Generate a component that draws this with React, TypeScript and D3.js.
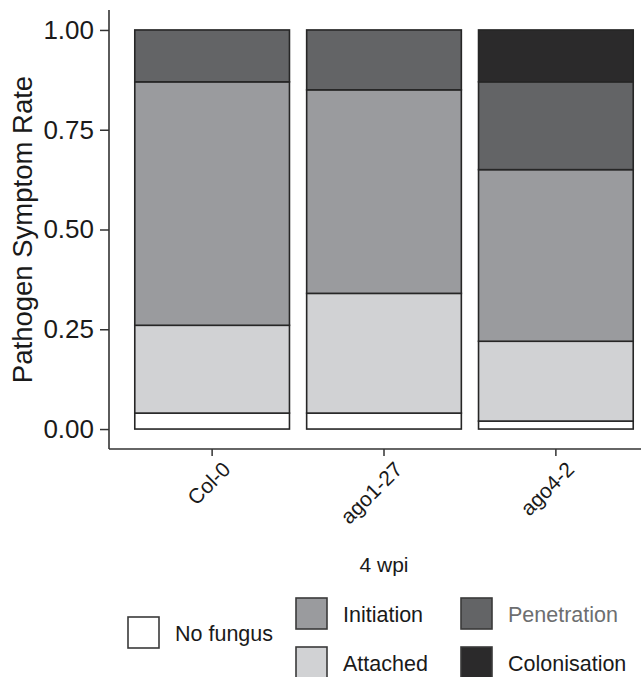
import React, { useEffect, useRef } from 'react';
import * as d3 from 'd3';

// genotypes on the x axis
const genotypes = ['Col-0', 'ago1-27', 'ago4-2'];
// stacking order, bottom to top
const stages = ['No fungus', 'Attached', 'Initiation', 'Penetration', 'Colonisation'];
// proportion of each stage per genotype (same order as genotypes)
const noFungus = [0.04, 0.04, 0.02];
const attached = [0.22, 0.30, 0.20];
const initiation = [0.61, 0.51, 0.43];
const penetration = [0.13, 0.15, 0.22];
const colonisation = [0.0, 0.0, 0.13];
const yTicks = [0, 0.25, 0.5, 0.75, 1];
const stageColors = ['#ffffff', '#d1d2d4', '#9a9b9e', '#636466', '#2b2a2b'];

const FONT = '"Liberation Sans", Arial, sans-serif';

const App = () => {
  const ref = useRef<SVGSVGElement>(null);

  useEffect(() => {
    if (!ref.current) return;
    const svg = d3.select(ref.current);
    svg.selectAll('*').remove();

    const left = 109, right = 659, top = 10, bottom = 449;

    const rows = genotypes.map((g, i) => ({
      genotype: g,
      'No fungus': noFungus[i],
      Attached: attached[i],
      Initiation: initiation[i],
      Penetration: penetration[i],
      Colonisation: colonisation[i],
    }));

    const x = d3.scaleBand()
      .domain(genotypes)
      .range([left, right])
      .paddingInner(0.1)
      .paddingOuter(0.15);

    const y = d3.scaleLinear()
      .domain([-0.05, 1.05])
      .range([bottom, top]);

    const color = d3.scaleOrdinal<string>().domain(stages).range(stageColors);

    const stacked = d3.stack<any>().keys(stages)(rows);

    // bars
    const layers = svg.append('g')
      .selectAll('g')
      .data(stacked)
      .enter().append('g')
      .attr('fill', d => color(d.key));

    layers.selectAll('rect')
      .data(d => d.filter(p => p[1] - p[0] > 0))
      .enter().append('rect')
      .attr('x', (d: any) => x(d.data.genotype)!)
      .attr('width', x.bandwidth())
      .attr('y', d => y(d[1]))
      .attr('height', d => y(d[0]) - y(d[1]))
      .attr('stroke', '#262626')
      .attr('stroke-width', 1.6);

    // y axis
    const yAxis = svg.append('g')
      .attr('transform', `translate(${left},0)`)
      .call(d3.axisLeft(y).tickValues(yTicks).tickFormat(d3.format('.2f')).tickSize(9).tickPadding(6));
    yAxis.select('.domain').remove();
    yAxis.selectAll('.tick line').attr('stroke', '#333').attr('stroke-width', 1.5);
    yAxis.selectAll('.tick text')
      .attr('font-family', FONT)
      .attr('font-size', 26)
      .attr('fill', '#1a1a1a');

    svg.append('line')
      .attr('x1', left).attr('x2', left)
      .attr('y1', top).attr('y2', bottom)
      .attr('stroke', '#333').attr('stroke-width', 1.6);

    // x axis
    svg.append('line')
      .attr('x1', left).attr('x2', right)
      .attr('y1', bottom).attr('y2', bottom)
      .attr('stroke', '#333').attr('stroke-width', 1.6);

    const xt = svg.append('g');
    genotypes.forEach(g => {
      const cx = x(g)! + x.bandwidth() / 2;
      xt.append('line')
        .attr('x1', cx).attr('x2', cx)
        .attr('y1', bottom).attr('y2', bottom + 7)
        .attr('stroke', '#333').attr('stroke-width', 1.5);
      xt.append('text')
        .attr('transform', `translate(${cx + 9},${bottom + 11}) rotate(-45)`)
        .attr('text-anchor', 'end')
        .attr('dy', '0.72em')
        .attr('font-family', FONT)
        .attr('font-size', 21)
        .attr('fill', '#1a1a1a')
        .text(g);
    });

    // axis titles
    svg.append('text')
      .attr('transform', `translate(32,${(top + bottom) / 2}) rotate(-90)`)
      .attr('text-anchor', 'middle')
      .attr('font-family', FONT)
      .attr('font-size', 27.5)
      .attr('fill', '#1a1a1a')
      .text('Pathogen Symptom Rate');

    svg.append('text')
      .attr('x', (left + right) / 2)
      .attr('y', 572)
      .attr('text-anchor', 'middle')
      .attr('font-family', FONT)
      .attr('font-size', 21)
      .attr('fill', '#1a1a1a')
      .text('4 wpi');

    // legend
    const legendItems = [
      { key: 'No fungus', bx: 128, by: 617, tx: 175, ty: 641, textColor: '#1a1a1a' },
      { key: 'Initiation', bx: 296, by: 598, tx: 343, ty: 622, textColor: '#1a1a1a' },
      { key: 'Attached', bx: 296, by: 647, tx: 343, ty: 671, textColor: '#1a1a1a' },
      { key: 'Penetration', bx: 461, by: 598, tx: 508, ty: 622, textColor: '#6d6e70' },
      { key: 'Colonisation', bx: 461, by: 647, tx: 508, ty: 671, textColor: '#1a1a1a' },
    ];
    const lg = svg.append('g');
    legendItems.forEach(it => {
      lg.append('rect')
        .attr('x', it.bx).attr('y', it.by)
        .attr('width', 31).attr('height', 31)
        .attr('fill', color(it.key))
        .attr('stroke', '#3a3a3a').attr('stroke-width', 1.6);
      lg.append('text')
        .attr('x', it.tx).attr('y', it.ty)
        .attr('font-family', FONT)
        .attr('font-size', 21.5)
        .attr('fill', it.textColor)
        .text(it.key);
    });
  }, []);

  return (
    <svg ref={ref} width={641} height={677} style={{ position: 'absolute', left: 0, top: 0, background: '#fff' }} />
  );
};

export default App;
